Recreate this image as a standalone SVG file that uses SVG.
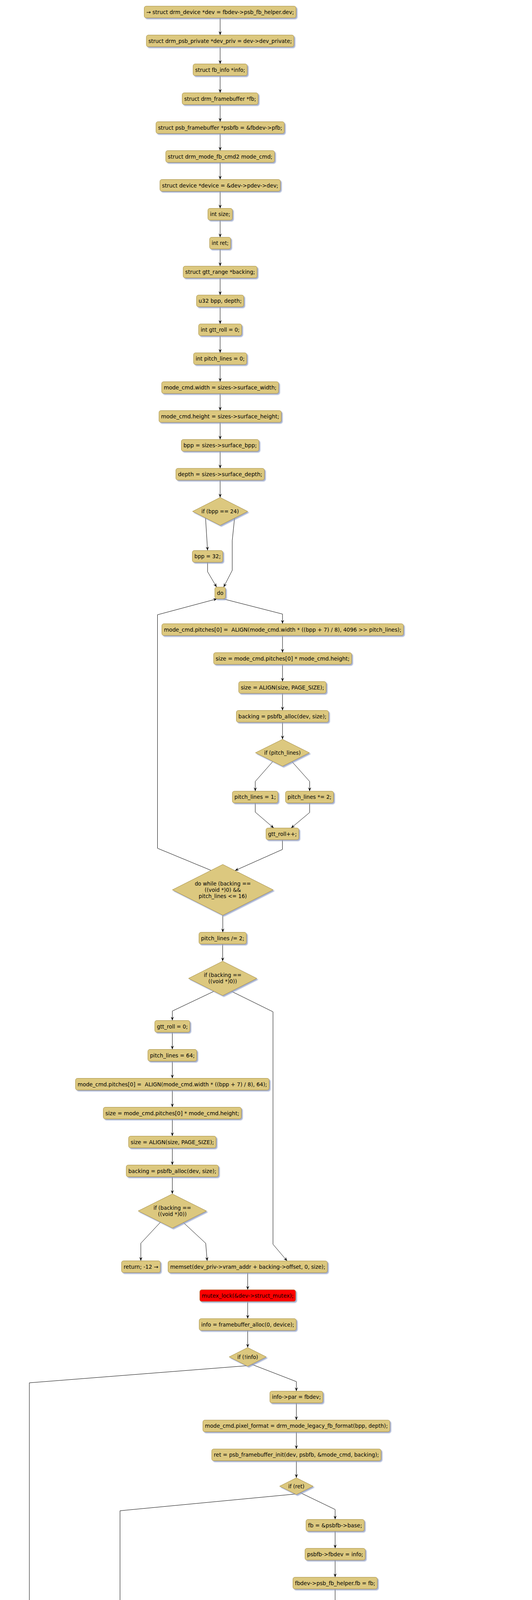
<svg xmlns="http://www.w3.org/2000/svg" width="1363" height="7382" viewBox="0 0 1363 7382">
<style>
.b{fill:#dcc87f;stroke:#a38b3e;stroke-width:1;filter:url(#ds)}
.r{fill:#ff0000}
.g{fill:#00ff00}
text{font-family:"DejaVu Sans","Verdana",sans-serif;font-size:13.3px;fill:#000;text-anchor:middle;white-space:pre}
.c{fill:none;stroke:#000;stroke-width:1;marker-end:url(#ah)}
</style>
<defs>
<filter id="ds" x="-10%" y="-20%" width="130%" height="160%">
<feDropShadow dx="3" dy="3" stdDeviation="1.2" flood-color="#8e9cc4" flood-opacity="0.8"/>
</filter>
<marker id="ah" viewBox="0 0 10 8" refX="10" refY="4" markerWidth="10" markerHeight="8" markerUnits="userSpaceOnUse" orient="auto">
<path d="M0,0 L10,4 L0,8 L4,4 Z" fill="#000"/>
</marker>
</defs>
<rect width="1363" height="7382" fill="#ffffff"/>
<g id="connectors">
<polyline class="c" points="564,45.8 564,89.75"/>
<polyline class="c" points="564,119.75 564,163.7"/>
<polyline class="c" points="564,193.7 564,237.65"/>
<polyline class="c" points="564,267.65 564,311.6"/>
<polyline class="c" points="564,341.6 564,385.55"/>
<polyline class="c" points="564,415.55 564,459.5"/>
<polyline class="c" points="564,489.5 564,533.45"/>
<polyline class="c" points="564,563.45 564,607.4"/>
<polyline class="c" points="564,637.4 564,681.35"/>
<polyline class="c" points="564,711.35 564,755.3"/>
<polyline class="c" points="564,785.3 564,829.25"/>
<polyline class="c" points="564,859.25 564,903.2"/>
<polyline class="c" points="564,933.2 564,977.15"/>
<polyline class="c" points="564,1007.15 564,1051.1"/>
<polyline class="c" points="564,1081.1 564,1125.05"/>
<polyline class="c" points="564,1155.05 564,1199"/>
<polyline class="c" points="564,1229 564,1273.5"/>
<polyline class="c" points="526.6,1326 531.8,1409.3"/>
<polyline class="c" points="601,1326 595,1383.8 595,1460 573,1503"/>
<polyline class="c" points="531.8,1439.3 531.8,1463.5 555,1503"/>
<polyline class="c" points="571.3,1533 723.8,1572 723.8,1596.8"/>
<polyline class="c" points="723.8,1626.8 723.8,1670.8"/>
<polyline class="c" points="723.8,1700.8 723.8,1744.8"/>
<polyline class="c" points="723.8,1774.8 723.8,1818.8"/>
<polyline class="c" points="723.8,1848.8 723.8,1892.7"/>
<polyline class="c" points="698.9,1949.5 654,2000.5 654,2025.4"/>
<polyline class="c" points="747.8,1949.5 793.3,2000.5 793.3,2025.4"/>
<polyline class="c" points="654,2055.4 654,2079 701.4,2119.8"/>
<polyline class="c" points="793.3,2055.4 793.3,2080 745.8,2119.8"/>
<polyline class="c" points="723.6,2149.8 723.6,2174.6 602,2228.7"/>
<polyline class="c" points="540.7,2228.2 403.5,2171.5 403.5,1573.8 556,1533"/>
<polyline class="c" points="570.8,2343 570.8,2386.7"/>
<polyline class="c" points="570.5,2416.7 570.5,2460.7"/>
<polyline class="c" points="548.4,2537.6 441.5,2588.3 441.5,2612.5"/>
<polyline class="c" points="592.6,2537.6 699.4,2590.2 699.4,3185.3 735.6,3228"/>
<polyline class="c" points="441.5,2642.5 441.5,2686.5"/>
<polyline class="c" points="441.5,2716.5 441.5,2760.5"/>
<polyline class="c" points="441.5,2790.5 441.5,2834.5"/>
<polyline class="c" points="441.5,2864.5 441.5,2908.5"/>
<polyline class="c" points="441.5,2938.5 441.5,2982.5"/>
<polyline class="c" points="441.5,3012.5 441.5,3056.5"/>
<polyline class="c" points="411.4,3128.5 360.8,3182.8 360.8,3227.8"/>
<polyline class="c" points="469.6,3129.5 527,3182.8 530.8,3228"/>
<polyline class="c" points="634.6,3258 634.6,3301.8"/>
<polyline class="c" points="634.6,3331.8 634.6,3375.8"/>
<polyline class="c" points="634.6,3405.8 634.6,3449.8"/>
<polyline class="c" points="631.5,3496.3 75.2,3540 75.2,6224.5"/>
<polyline class="c" points="644.3,3492.5 759.3,3537 759.3,3561.4"/>
<polyline class="c" points="759.3,3591.4 759.3,3635.4"/>
<polyline class="c" points="759.3,3665.4 759.3,3709.4"/>
<polyline class="c" points="759.3,3739.4 759.3,3783.3"/>
<polyline class="c" points="755.9,3824.8 307.5,3867.5 307.5,6015.5"/>
<polyline class="c" points="768.7,3821 858.6,3864.3 858.6,3889.8"/>
<polyline class="c" points="858.6,3919.8 858.6,3963.8"/>
<polyline class="c" points="858.6,3993.8 858.6,4037.8"/>
<polyline class="c" points="858.6,4067.8 858.6,4111.8"/>
<polyline class="c" points="858.6,4141.8 858.6,4185.7"/>
<polyline class="c" points="858.6,4215.7 858.6,4259.7"/>
<polyline class="c" points="858.6,4289.7 858.6,4333.7"/>
<polyline class="c" points="858.6,4363.7 858.6,4407.8"/>
<polyline class="c" points="831.8,4556.8 609.8,4611 609.8,4827.4"/>
<polyline class="c" points="903.8,4547.3 1002.5,4609.3 1002.5,4634"/>
<polyline class="c" points="991.2,4683.9 870.8,4728.7 870.8,4753.4"/>
<polyline class="c" points="1013.6,4683.9 1161.5,4731 1161.5,4827.4"/>
<polyline class="c" points="870.8,4783.4 870.8,4827.4"/>
<polyline class="c" points="609.8,4857.4 609.8,4882 768,4922"/>
<polyline class="c" points="870.8,4857.4 870.8,4922"/>
<polyline class="c" points="1161.5,4857.4 1161.5,4882 972.1,4922"/>
<polyline class="c" points="870.8,4952 870.8,4996.7"/>
<polyline class="c" points="866.9,5035.5 509.4,5080.3 509.4,5941.5"/>
<polyline class="c" points="879.6,5032.6 991.9,5077.4 991.9,5102.7"/>
<polyline class="c" points="991.9,5132.7 991.9,5176.7"/>
<polyline class="c" points="991.9,5206.7 991.9,5250.7"/>
<polyline class="c" points="991.9,5280.7 991.9,5324.7"/>
<polyline class="c" points="991.9,5354.7 991.9,5398.7"/>
<polyline class="c" points="991.9,5428.7 991.9,5472.7"/>
<polyline class="c" points="991.9,5502.7 991.9,5546.9"/>
<polyline class="c" points="972.1,5628.4 848.3,5677.2 848.3,5702.5"/>
<polyline class="c" points="1006,5631.3 1239.3,5680.1 1239.3,6067.6 1211.3,6110"/>
<polyline class="c" points="848.3,5732.5 848.3,5776.5"/>
<polyline class="c" points="830.6,5869.1 651.3,5916.2 651.3,5941.5"/>
<polyline class="c" points="870.1,5866.7 1001.4,5916 1001.4,5941.3"/>
<polyline class="c" points="509.4,5971.5 509.4,6015.5"/>
<polyline class="c" points="651.3,5971.5 651.3,6015.5"/>
<polyline class="c" points="1001.4,5971.3 1001.4,6015.4"/>
<polyline class="c" points="307.5,6045.5 307.5,6069.5 439.1,6115.4"/>
<polyline class="c" points="509.4,6045.5 509.4,6069.5 479.3,6115.4"/>
<polyline class="c" points="651.3,6045.5 651.3,6069.5 517.7,6115.4"/>
<polyline class="c" points="1001.4,6045.4 1001.4,6069.3 1029.5,6110"/>
<polyline class="c" points="478,6145.4 478,6194.6"/>
<polyline class="c" points="459.2,6276.1 320.5,6323.8 320.5,6348.4"/>
<polyline class="c" points="496.5,6276.1 635.2,6323.8 635.2,6348.4"/>
<polyline class="c" points="75.2,6254.5 75.2,6348.4"/>
<polyline class="c" points="75.2,6378.4 75.2,6402.4 331.8,6442.6"/>
<polyline class="c" points="320.5,6378.4 320.5,6402.4 365.6,6442.6"/>
<polyline class="c" points="635.2,6378.4 635.2,6402.4 404.7,6442.6"/>
<polyline class="c" points="368,6472.6 368,6537.1"/>
<polyline class="c" points="368,6567.1 368,6631.3"/>
<polyline class="c" points="368,6661.3 368,6776.7"/>
<polyline class="c" points="1120.7,6150.8 1120.7,6224.9"/>
<polyline class="c" points="1120.7,6254.9 1120.7,6348.9"/>
<polyline class="c" points="1120.7,6378.9 1120.7,6442.4"/>
<polyline class="c" points="1128.4,6472.4 1220.8,6511.3 1220.8,6537.1"/>
<polyline class="c" points="1214.5,6567.1 1094.6,6606 1094.6,6631.3"/>
<polyline class="c" points="1094.6,6661.3 1094.6,6704.6"/>
<polyline class="c" points="1008.4,6834.8 1006.8,6985.8 1158.5,7037"/>
<polyline class="c" points="1180.2,6834.5 1181.2,6921.8"/>
<polyline class="c" points="1181.2,6963 1181.2,6986.7 1177.8,7027.9"/>
<polyline class="c" points="1194.2,7036.5 1347.3,6985.8 1347.3,6608.9 1230.4,6567.1"/>
<polyline class="c" points="1177.5,7089.6 1177.5,7113.4 1124.5,7164.5"/>
<polyline class="c" points="1093.5,7158.5 901.4,7112 901.4,6513 1112.4,6472.4"/>
<polyline class="c" points="1103.3,7215.9 1103.3,7260.7"/>
<polyline class="c" points="1103.3,7290.7 1103.3,7334.6"/>
</g>
<g id="n1"><rect class="b" x="369.5" y="15.8" width="389" height="30" rx="5"/><text x="564" y="35.8" textLength="378.4" lengthAdjust="spacingAndGlyphs">→ struct drm_device *dev = fbdev-&gt;psb_fb_helper.dev;</text></g>
<g id="n2"><rect class="b" x="375" y="89.75" width="378" height="30" rx="5"/><text x="564" y="109.75" textLength="367.4" lengthAdjust="spacingAndGlyphs">struct drm_psb_private *dev_priv = dev-&gt;dev_private;</text></g>
<g id="n3"><rect class="b" x="494.75" y="163.7" width="138.5" height="30" rx="5"/><text x="564" y="183.7" textLength="127.9" lengthAdjust="spacingAndGlyphs">struct fb_info *info;</text></g>
<g id="n4"><rect class="b" x="466.8" y="237.65" width="194.4" height="30" rx="5"/><text x="564" y="257.65" textLength="183.8" lengthAdjust="spacingAndGlyphs">struct drm_framebuffer *fb;</text></g>
<g id="n5"><rect class="b" x="399.65" y="311.6" width="328.7" height="30" rx="5"/><text x="564" y="331.6" textLength="318.1" lengthAdjust="spacingAndGlyphs">struct psb_framebuffer *psbfb = &amp;fbdev-&gt;pfb;</text></g>
<g id="n6"><rect class="b" x="424.7" y="385.55" width="278.6" height="30" rx="5"/><text x="564" y="405.55" textLength="268" lengthAdjust="spacingAndGlyphs">struct drm_mode_fb_cmd2 mode_cmd;</text></g>
<g id="n7"><rect class="b" x="409.75" y="459.5" width="308.5" height="30" rx="5"/><text x="564" y="479.5" textLength="297.9" lengthAdjust="spacingAndGlyphs">struct device *device = &amp;dev-&gt;pdev-&gt;dev;</text></g>
<g id="n8"><rect class="b" x="532.65" y="533.45" width="62.7" height="30" rx="5"/><text x="564" y="553.45" textLength="52.1" lengthAdjust="spacingAndGlyphs">int size;</text></g>
<g id="n9"><rect class="b" x="537" y="607.4" width="54" height="30" rx="5"/><text x="564" y="627.4" textLength="43.4" lengthAdjust="spacingAndGlyphs">int ret;</text></g>
<g id="n10"><rect class="b" x="469.3" y="681.35" width="189.4" height="30" rx="5"/><text x="564" y="701.35" textLength="178.8" lengthAdjust="spacingAndGlyphs">struct gtt_range *backing;</text></g>
<g id="n11"><rect class="b" x="503.5" y="755.3" width="121" height="30" rx="5"/><text x="564" y="775.3" textLength="110.4" lengthAdjust="spacingAndGlyphs">u32 bpp, depth;</text></g>
<g id="n12"><rect class="b" x="508.9" y="829.25" width="110.2" height="30" rx="5"/><text x="564" y="849.25" textLength="99.6" lengthAdjust="spacingAndGlyphs">int gtt_roll = 0;</text></g>
<g id="n13"><rect class="b" x="495.95" y="903.2" width="136.1" height="30" rx="5"/><text x="564" y="923.2" textLength="125.5" lengthAdjust="spacingAndGlyphs">int pitch_lines = 0;</text></g>
<g id="n14"><rect class="b" x="414.2" y="977.15" width="299.6" height="30" rx="5"/><text x="564" y="997.15" textLength="289" lengthAdjust="spacingAndGlyphs">mode_cmd.width = sizes-&gt;surface_width;</text></g>
<g id="n15"><rect class="b" x="407.3" y="1051.1" width="313.4" height="30" rx="5"/><text x="564" y="1071.1" textLength="302.8" lengthAdjust="spacingAndGlyphs">mode_cmd.height = sizes-&gt;surface_height;</text></g>
<g id="n16"><rect class="b" x="464.7" y="1125.05" width="198.6" height="30" rx="5"/><text x="564" y="1145.05" textLength="188" lengthAdjust="spacingAndGlyphs">bpp = sizes-&gt;surface_bpp;</text></g>
<g id="n17"><rect class="b" x="450.65" y="1199" width="226.7" height="30" rx="5"/><text x="564" y="1219" textLength="216.1" lengthAdjust="spacingAndGlyphs">depth = sizes-&gt;surface_depth;</text></g>
<g id="d1"><polygon class="b" points="493.4,1309.2 564,1273.5 634.6,1309.2 564,1344.9"/><text x="564" y="1314.2">if (bpp == 24)</text></g>
<g id="n19"><rect class="b" x="492.8" y="1409.3" width="78" height="30" rx="5"/><text x="531.8" y="1429.3" textLength="67.4" lengthAdjust="spacingAndGlyphs">bpp = 32;</text></g>
<g id="n20"><rect class="b" x="550.4" y="1503" width="27.2" height="30" rx="5"/><text x="564" y="1523">do</text></g>
<g id="n21"><rect class="b" x="414.7" y="1596.8" width="618.9" height="30" rx="5"/><text x="724.15" y="1616.8" textLength="608.3" lengthAdjust="spacingAndGlyphs">mode_cmd.pitches[0] =  ALIGN(mode_cmd.width * ((bpp + 7) / 8), 4096 &gt;&gt; pitch_lines);</text></g>
<g id="n22"><rect class="b" x="547.3" y="1670.8" width="353.6" height="30" rx="5"/><text x="724.1" y="1690.8" textLength="343" lengthAdjust="spacingAndGlyphs">size = mode_cmd.pitches[0] * mode_cmd.height;</text></g>
<g id="n23"><rect class="b" x="611.6" y="1744.8" width="224" height="30" rx="5"/><text x="723.6" y="1764.8" textLength="213.4" lengthAdjust="spacingAndGlyphs">size = ALIGN(size, PAGE_SIZE);</text></g>
<g id="n24"><rect class="b" x="605.5" y="1818.8" width="236.2" height="30" rx="5"/><text x="723.6" y="1838.8" textLength="225.6" lengthAdjust="spacingAndGlyphs">backing = psbfb_alloc(dev, size);</text></g>
<g id="d2"><polygon class="b" points="654.5,1927.1 723.8,1892.7 792.6,1927.1 723.8,1961.6"/><text x="723.6" y="1932.1">if (pitch_lines)</text></g>
<g id="n26"><rect class="b" x="595.3" y="2025.4" width="116.8" height="30" rx="5"/><text x="653.7" y="2045.4" textLength="106.2" lengthAdjust="spacingAndGlyphs">pitch_lines = 1;</text></g>
<g id="n27"><rect class="b" x="731.5" y="2025.4" width="123" height="30" rx="5"/><text x="793" y="2045.4" textLength="112.4" lengthAdjust="spacingAndGlyphs">pitch_lines *= 2;</text></g>
<g id="n28"><rect class="b" x="681.5" y="2119.8" width="84.2" height="30" rx="5"/><text x="723.6" y="2139.8" textLength="73.6" lengthAdjust="spacingAndGlyphs">gtt_roll++;</text></g>
<g id="d3"><polygon class="b" points="441.7,2278 570.8,2213 699.9,2278 570.8,2343"/><text x="570.8" y="2267">do while (backing ==</text><text x="570.8" y="2283">((void *)0) &amp;&amp;</text><text x="570.8" y="2299">pitch_lines &lt;= 16)</text></g>
<g id="n30"><rect class="b" x="509.8" y="2386.7" width="121.4" height="30" rx="5"/><text x="570.5" y="2406.7" textLength="110.8" lengthAdjust="spacingAndGlyphs">pitch_lines /= 2;</text></g>
<g id="d4"><polygon class="b" points="483,2504.7 570.5,2460.7 658,2504.7 570.5,2548.7"/><text x="570.5" y="2500.8">if (backing ==</text><text x="570.5" y="2516.7">((void *)0))</text></g>
<g id="n32"><rect class="b" x="396.6" y="2612.5" width="89.8" height="30" rx="5"/><text x="441.5" y="2632.5" textLength="79.2" lengthAdjust="spacingAndGlyphs">gtt_roll = 0;</text></g>
<g id="n33"><rect class="b" x="378.9" y="2686.5" width="125.2" height="30" rx="5"/><text x="441.5" y="2706.5" textLength="114.6" lengthAdjust="spacingAndGlyphs">pitch_lines = 64;</text></g>
<g id="n34"><rect class="b" x="193.5" y="2760.5" width="496" height="30" rx="5"/><text x="441.5" y="2780.5" textLength="485.4" lengthAdjust="spacingAndGlyphs">mode_cmd.pitches[0] =  ALIGN(mode_cmd.width * ((bpp + 7) / 8), 64);</text></g>
<g id="n35"><rect class="b" x="264.7" y="2834.5" width="353.6" height="30" rx="5"/><text x="441.5" y="2854.5" textLength="343" lengthAdjust="spacingAndGlyphs">size = mode_cmd.pitches[0] * mode_cmd.height;</text></g>
<g id="n36"><rect class="b" x="329.5" y="2908.5" width="224" height="30" rx="5"/><text x="441.5" y="2928.5" textLength="213.4" lengthAdjust="spacingAndGlyphs">size = ALIGN(size, PAGE_SIZE);</text></g>
<g id="n37"><rect class="b" x="323.4" y="2982.5" width="236.2" height="30" rx="5"/><text x="441.5" y="3002.5" textLength="225.6" lengthAdjust="spacingAndGlyphs">backing = psbfb_alloc(dev, size);</text></g>
<g id="d5"><polygon class="b" points="354,3100.1 441.5,3056.5 529,3100.1 441.5,3143.8"/><text x="441.5" y="3097">if (backing ==</text><text x="441.5" y="3112.5">((void *)0))</text></g>
<g id="n39"><rect class="b" x="311.4" y="3227.8" width="99.4" height="30" rx="5"/><text x="361.1" y="3247.8" textLength="88.8" lengthAdjust="spacingAndGlyphs">return; -12 →</text></g>
<g id="n40"><rect class="b" x="430.6" y="3228" width="408.2" height="30" rx="5"/><text x="634.7" y="3248" textLength="397.6" lengthAdjust="spacingAndGlyphs">memset(dev_priv-&gt;vram_addr + backing-&gt;offset, 0, size);</text></g>
<g id="n41"><rect class="b r" x="511.8" y="3301.8" width="245.6" height="30" rx="5"/><text x="634.6" y="3321.8" textLength="235" lengthAdjust="spacingAndGlyphs">mutex_lock(&amp;dev-&gt;struct_mutex);</text></g>
<g id="n42"><rect class="b" x="510.3" y="3375.8" width="248.7" height="30" rx="5"/><text x="634.6" y="3395.8" textLength="238.1" lengthAdjust="spacingAndGlyphs">info = framebuffer_alloc(0, device);</text></g>
<g id="d6"><polygon class="b" points="587,3473.7 634.6,3449.8 682.2,3473.7 634.6,3497.6"/><text x="634.6" y="3478.7">if (!info)</text></g>
<g id="n44"><rect class="b" x="691.4" y="3561.4" width="135.8" height="30" rx="5"/><text x="759.3" y="3581.4" textLength="125.2" lengthAdjust="spacingAndGlyphs">info-&gt;par = fbdev;</text></g>
<g id="n45"><rect class="b" x="519.8" y="3635.4" width="479" height="30" rx="5"/><text x="759.3" y="3655.4" textLength="468.4" lengthAdjust="spacingAndGlyphs">mode_cmd.pixel_format = drm_mode_legacy_fb_format(bpp, depth);</text></g>
<g id="n46"><rect class="b" x="542.5" y="3709.4" width="433.7" height="30" rx="5"/><text x="759.3" y="3729.4" textLength="423.1" lengthAdjust="spacingAndGlyphs">ret = psb_framebuffer_init(dev, psbfb, &amp;mode_cmd, backing);</text></g>
<g id="d7"><polygon class="b" points="716.4,3804.7 759.3,3783.3 802.2,3804.7 759.3,3826"/><text x="759.3" y="3809.7">if (ret)</text></g>
<g id="n48"><rect class="b" x="784" y="3889.8" width="149.2" height="30" rx="5"/><text x="858.6" y="3909.8" textLength="138.6" lengthAdjust="spacingAndGlyphs">fb = &amp;psbfb-&gt;base;</text></g>
<g id="n49"><rect class="b" x="781.4" y="3963.8" width="154.4" height="30" rx="5"/><text x="858.6" y="3983.8" textLength="143.8" lengthAdjust="spacingAndGlyphs">psbfb-&gt;fbdev = info;</text></g>
<g id="n50"><rect class="b" x="750.5" y="4037.8" width="216.2" height="30" rx="5"/><text x="858.6" y="4057.8" textLength="205.6" lengthAdjust="spacingAndGlyphs">fbdev-&gt;psb_fb_helper.fb = fb;</text></g>
<g id="n51"><rect class="b" x="731.7" y="4111.8" width="253.8" height="30" rx="5"/><text x="858.6" y="4131.8" textLength="243.2" lengthAdjust="spacingAndGlyphs">fbdev-&gt;psb_fb_helper.fbdev = info;</text></g>
<g id="n52"><rect class="b" x="671.1" y="4185.7" width="375" height="30" rx="5"/><text x="858.6" y="4205.7" textLength="364.4" lengthAdjust="spacingAndGlyphs">drm_fb_helper_fill_fix(info, fb-&gt;pitches[0], fb-&gt;depth);</text></g>
<g id="n53"><rect class="b" x="747.6" y="4259.7" width="221.9" height="30" rx="5"/><text x="858.6" y="4279.7" textLength="211.3" lengthAdjust="spacingAndGlyphs">strcpy(info-&gt;fix.id, "psbdrmfb");</text></g>
<g id="n54"><rect class="b" x="744.4" y="4333.7" width="228.3" height="30" rx="5"/><text x="858.6" y="4353.7" textLength="217.7" lengthAdjust="spacingAndGlyphs">info-&gt;flags = FBINFO_DEFAULT;</text></g>
<g id="d8"><polygon class="b" points="697.2,4489 858.6,4407.8 1020,4489 858.6,4570.3"/><text x="858.6" y="4468.5">if</text><text x="858.6" y="4485">(dev_priv-&gt;ops-&gt;accel_2d</text><text x="858.6" y="4501.5">&amp;&amp; pitch_lines &gt;</text><text x="858.6" y="4518">8)</text></g>
<g id="d9"><polygon class="b" points="946.6,4661.9 1002.5,4634 1058.4,4661.9 1002.5,4689.7"/><text x="1002.5" y="4666.9">if (gtt_roll)</text></g>
<g id="n57"><rect class="b" x="757.9" y="4753.4" width="225.8" height="30" rx="5"/><text x="870.8" y="4773.4" textLength="215.2" lengthAdjust="spacingAndGlyphs">info-&gt;fbops = &amp;psbfb_roll_ops;</text></g>
<g id="n58"><rect class="b" x="509.7" y="4827.4" width="200.3" height="30" rx="5"/><text x="609.8" y="4847.4" textLength="189.7" lengthAdjust="spacingAndGlyphs">info-&gt;fbops = &amp;psbfb_ops;</text></g>
<g id="n59"><rect class="b" x="729.5" y="4827.4" width="282.6" height="30" rx="5"/><text x="870.8" y="4847.4" textLength="272" lengthAdjust="spacingAndGlyphs">info-&gt;flags |= FBINFO_HWACCEL_YPAN;</text></g>
<g id="n60"><rect class="b" x="1031.4" y="4827.4" width="260.2" height="30" rx="5"/><text x="1161.5" y="4847.4" textLength="249.6" lengthAdjust="spacingAndGlyphs">info-&gt;fbops = &amp;psbfb_unaccel_ops;</text></g>
<g id="n61"><rect class="b" x="719.3" y="4922" width="303" height="30" rx="5"/><text x="870.8" y="4942" textLength="292.4" lengthAdjust="spacingAndGlyphs">ret = fb_alloc_cmap(&amp;info-&gt;cmap, 256, 0);</text></g>
<g id="d10"><polygon class="b" points="829,5017.5 870.8,4996.7 912.6,5017.5 870.8,5038.4"/><text x="870.8" y="5022.5">if (ret)</text></g>
<g id="n63"><rect class="b" x="809.8" y="5102.7" width="364.1" height="30" rx="5"/><text x="991.9" y="5122.7" textLength="353.5" lengthAdjust="spacingAndGlyphs">info-&gt;fix.smem_start = dev-&gt;mode_config.fb_base;</text></g>
<g id="n64"><rect class="b" x="895.6" y="5176.7" width="192.6" height="30" rx="5"/><text x="991.9" y="5196.7" textLength="182" lengthAdjust="spacingAndGlyphs">info-&gt;fix.smem_len = size;</text></g>
<g id="n65"><rect class="b" x="886.6" y="5250.7" width="210.5" height="30" rx="5"/><text x="991.9" y="5270.7" textLength="199.9" lengthAdjust="spacingAndGlyphs">info-&gt;fix.ywrapstep = gtt_roll;</text></g>
<g id="n66"><rect class="b" x="909" y="5324.7" width="165.8" height="30" rx="5"/><text x="991.9" y="5344.7" textLength="155.2" lengthAdjust="spacingAndGlyphs">info-&gt;fix.ypanstep = 0;</text></g>
<g id="n67"><rect class="b" x="772.2" y="5398.7" width="439.4" height="30" rx="5"/><text x="991.9" y="5418.7" textLength="428.8" lengthAdjust="spacingAndGlyphs">info-&gt;screen_base = dev_priv-&gt;vram_addr + backing-&gt;offset;</text></g>
<g id="n68"><rect class="b" x="898.5" y="5472.7" width="186.8" height="30" rx="5"/><text x="991.9" y="5492.7" textLength="176.2" lengthAdjust="spacingAndGlyphs">info-&gt;screen_size = size;</text></g>
<g id="d11"><polygon class="b" points="900.4,5592.8 991.9,5546.9 1083.4,5592.8 991.9,5638.8"/><text x="991.9" y="5589.2">if (dev_priv-&gt;gtt</text><text x="991.9" y="5604.7">.stolen_size)</text></g>
<g id="n70"><rect class="b" x="714.4" y="5702.5" width="267.9" height="30" rx="5"/><text x="848.3" y="5722.5" textLength="257.3" lengthAdjust="spacingAndGlyphs">info-&gt;apertures = alloc_apertures(1);</text></g>
<g id="d12"><polygon class="b" points="747.6,5827.3 848.3,5776.5 949,5827.3 848.3,5878.1"/><text x="848.3" y="5823.4">if</text><text x="848.3" y="5839.5">(!info-&gt;apertures)</text></g>
<g id="n72"><rect class="b" x="449.1" y="5941.5" width="120.6" height="30" rx="5"/><text x="509.4" y="5961.5" textLength="110" lengthAdjust="spacingAndGlyphs">ret = -ENOMEM;</text></g>
<g id="n73"><rect class="b" x="591" y="5941.5" width="120.6" height="30" rx="5"/><text x="651.3" y="5961.5" textLength="110" lengthAdjust="spacingAndGlyphs">ret = -ENOMEM;</text></g>
<g id="n74"><rect class="b" x="774.4" y="5941.3" width="454.1" height="30" rx="5"/><text x="1001.4" y="5961.3" textLength="443.5" lengthAdjust="spacingAndGlyphs">info-&gt;apertures-&gt;ranges[0].base = dev-&gt;mode_config.fb_base;</text></g>
<g id="n75"><rect class="b" x="251.5" y="6015.5" width="111.9" height="30" rx="5"/><text x="307.5" y="6035.5" textLength="101.3" lengthAdjust="spacingAndGlyphs">goto out_unref</text></g>
<g id="n76"><rect class="b" x="453.5" y="6015.5" width="111.9" height="30" rx="5"/><text x="509.4" y="6035.5" textLength="101.3" lengthAdjust="spacingAndGlyphs">goto out_unref</text></g>
<g id="n77"><rect class="b" x="595.4" y="6015.5" width="111.9" height="30" rx="5"/><text x="651.3" y="6035.5" textLength="101.3" lengthAdjust="spacingAndGlyphs">goto out_unref</text></g>
<g id="n78"><rect class="b" x="785.9" y="6015.4" width="433.1" height="30" rx="5"/><text x="1002.4" y="6035.4" textLength="422.5" lengthAdjust="spacingAndGlyphs">info-&gt;apertures-&gt;ranges[0].size = dev_priv-&gt;gtt.stolen_size;</text></g>
<g id="n79"><rect class="b" x="940.9" y="6110" width="359.7" height="40.8" rx="5"/><text x="1120.7" y="6127.1" textLength="350.2" lengthAdjust="spacingAndGlyphs">drm_fb_helper_fill_var(info, &amp;fbdev-&gt;psb_fb_helper,</text><text x="1120.7" y="6142.6" textLength="244.4" lengthAdjust="spacingAndGlyphs">sizes-&gt;fb_width, sizes-&gt;fb_height);</text></g>
<g id="n80"><rect class="b" x="920.4" y="6224.9" width="400.6" height="30" rx="5"/><text x="1120.7" y="6244.9" textLength="390" lengthAdjust="spacingAndGlyphs">info-&gt;fix.mmio_start = pci_resource_start(dev-&gt;pdev, 0);</text></g>
<g id="n81"><rect class="b" x="930.6" y="6348.9" width="380.2" height="30" rx="5"/><text x="1120.7" y="6368.9" textLength="369.6" lengthAdjust="spacingAndGlyphs">info-&gt;fix.mmio_len = pci_resource_len(dev-&gt;pdev, 0);</text></g>
<g id="n82"><rect class="b" x="1107.1" y="6442.4" width="27.2" height="30" rx="5"/><text x="1120.7" y="6462.4">do</text></g>
<g id="n83"><rect class="b" x="1207.5" y="6537.1" width="27.2" height="30" rx="5"/><text x="1221.1" y="6557.1">do</text></g>
<g id="n84"><rect class="b" x="1000" y="6631.3" width="190.2" height="30" rx="5"/><text x="1095.1" y="6651.3" textLength="179.6" lengthAdjust="spacingAndGlyphs">static _ddebug descriptor;</text></g>
<g id="d14"><polygon class="b" points="921.7,6791.3 1094.3,6704.6 1266.9,6791.3 1094.3,6877.9"/><text x="1094.3" y="6771">if</text><text x="1094.3" y="6787.5">(__builtin_expect(!!(descriptor</text><text x="1094.3" y="6804.1">.flags &amp; (1 &lt;&lt; 0)),</text><text x="1094.3" y="6820.2">0))</text></g>
<g id="n86"><rect class="b" x="1026.4" y="6921.8" width="310.2" height="41.2" rx="5"/><text x="1181.5" y="6938.8" textLength="300.1" lengthAdjust="spacingAndGlyphs">dev_dbg(dev-&gt;dev, "allocated %dx%d fb\n",</text><text x="1181.5" y="6955.9" textLength="281.2" lengthAdjust="spacingAndGlyphs">psbfb-&gt;base.width, psbfb-&gt;base.height)</text></g>
<g id="d15"><polygon class="b" points="1114.5,7058.8 1176.9,7027.9 1239.3,7058.8 1176.9,7089.6"/><text x="1176.9" y="7063.8">do while (0)</text></g>
<g id="d16"><polygon class="b" points="1040.8,7184.8 1103.1,7153.7 1165.4,7184.8 1103.1,7215.9"/><text x="1103.1" y="7189.8">do while (0)</text></g>
<g id="n89"><rect class="b g" x="971.6" y="7260.7" width="263.5" height="30" rx="5"/><text x="1103.3" y="7280.7" textLength="252.9" lengthAdjust="spacingAndGlyphs">mutex_unlock(&amp;dev-&gt;struct_mutex);</text></g>
<g id="n90"><rect class="b" x="1061.1" y="7334.6" width="84.4" height="30" rx="5"/><text x="1103.3" y="7354.6" textLength="73.8" lengthAdjust="spacingAndGlyphs">return; 0 →</text></g>
<g id="n91"><rect class="b" x="15.5" y="6224.5" width="121.1" height="30" rx="5"/><text x="76" y="6244.5" textLength="110.5" lengthAdjust="spacingAndGlyphs">ret = -ENOMEM;</text></g>
<g id="n92"><rect class="b" x="24.7" y="6348.4" width="102.7" height="30" rx="5"/><text x="76" y="6368.4" textLength="92.1" lengthAdjust="spacingAndGlyphs">goto out_err1</text></g>
<g id="n93"><rect class="b" x="422.5" y="6115.4" width="111.3" height="30" rx="5"/><text x="478.1" y="6135.4" textLength="100.7" lengthAdjust="spacingAndGlyphs">label out_unref</text></g>
<g id="d13"><polygon class="b" points="388.6,6239.6 477.9,6194.6 567.2,6239.6 477.9,6284.7"/><text x="477.9" y="6244.6">if (backing-&gt;stolen)</text></g>
<g id="n95"><rect class="b" x="198.5" y="6348.4" width="244" height="30" rx="5"/><text x="320.5" y="6368.4" textLength="233.4" lengthAdjust="spacingAndGlyphs">psb_gtt_free_range(dev, backing);</text></g>
<g id="n96"><rect class="b" x="462.7" y="6348.4" width="344.9" height="30" rx="5"/><text x="635.2" y="6368.4" textLength="334.3" lengthAdjust="spacingAndGlyphs">drm_gem_object_unreference(&amp;backing-&gt;gem);</text></g>
<g id="n97"><rect class="b" x="316.8" y="6442.6" width="102.4" height="30" rx="5"/><text x="368" y="6462.6" textLength="91.8" lengthAdjust="spacingAndGlyphs">label out_err1</text></g>
<g id="n98"><rect class="b g" x="236.2" y="6537.1" width="263.5" height="30" rx="5"/><text x="368" y="6557.1" textLength="252.9" lengthAdjust="spacingAndGlyphs">mutex_unlock(&amp;dev-&gt;struct_mutex);</text></g>
<g id="n99"><rect class="b" x="246" y="6631.3" width="244" height="30" rx="5"/><text x="368" y="6651.3" textLength="233.4" lengthAdjust="spacingAndGlyphs">psb_gtt_free_range(dev, backing);</text></g>
<g id="n100"><rect class="b" x="320.7" y="6776.7" width="94.6" height="30" rx="5"/><text x="368" y="6796.7" textLength="84" lengthAdjust="spacingAndGlyphs">return; ret →</text></g>
</svg>
